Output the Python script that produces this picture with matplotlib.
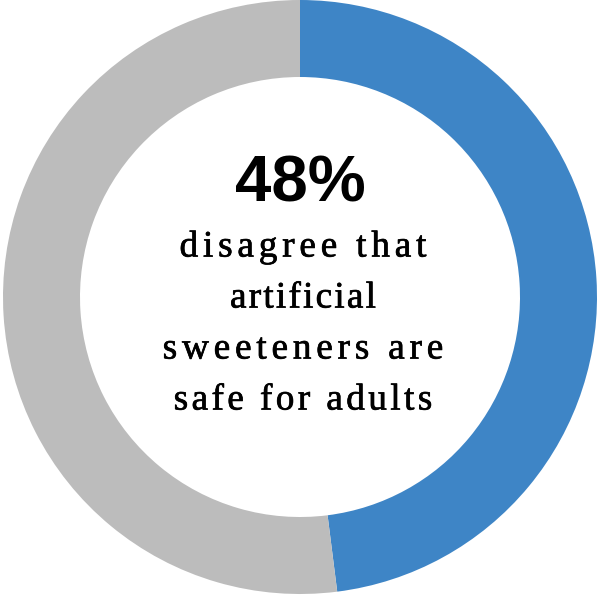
import matplotlib
matplotlib.use("Agg")
import matplotlib.pyplot as plt
import matplotlib.patheffects as pe
from matplotlib.font_manager import FontProperties, findfont
from matplotlib.ft2font import FT2Font

W, H, DPI = 599, 595, 100

# share of respondents
labels = ["Disagree", "Other"]
shares = [48, 52]
colors = ["#3E85C6", "#BCBCBC"]

headline = "48%"
caption = ["disagree that", "artificial", "sweeteners are", "safe for adults"]
tracking = [4.8, 2.2, 4.8, 3.4]   # extra letter spacing per line, px

CX, CY = 300, 297       # ring centre, px from top-left
R = 297                 # outer radius, px
RING = 77               # ring thickness, px

fig = plt.figure(figsize=(W / DPI, H / DPI), dpi=DPI)

ax = fig.add_axes([0, 0, 1, 1])
ax.pie(shares, colors=colors, startangle=90, counterclock=False, radius=1,
       wedgeprops=dict(width=RING / R, linewidth=0))
ax.set_aspect("auto")
ax.set_xlim(-CX / R, (W - CX) / R)
ax.set_ylim(-(H - CY) / R, CY / R)
ax.axis("off")

# overlay in pixel units for the centre text
tx = fig.add_axes([0, 0, 1, 1])
tx.set_xlim(0, W)
tx.set_ylim(H, 0)
tx.axis("off")
tx.patch.set_alpha(0)

tx.text(CX, 201, headline, ha="center", va="baseline",
        fontsize=47, fontweight="bold", family="Liberation Sans")

serif = FontProperties(family="Liberation Serif", size=26.8)
ft = FT2Font(findfont(serif))
ft.set_size(serif.get_size_in_points(), DPI)
heavier = [pe.withStroke(linewidth=0.5, foreground="black")]


def advances(s):
    out = []
    for ch in s:
        g = ft.load_char(ord(ch))
        out.append(g.linearHoriAdvance / 65536)
    return out


y = 256.5
for line, track in zip(caption, tracking):
    adv = advances(line)
    total = sum(adv) + track * (len(line) - 1)
    x = CX + 3 - total / 2
    for ch, a in zip(line, adv):
        if ch != " ":
            tx.text(x, y, ch, ha="left", va="baseline", fontproperties=serif,
                    path_effects=heavier)
        x += a + track
    y += 51

fig.savefig("out.png", dpi=DPI)
